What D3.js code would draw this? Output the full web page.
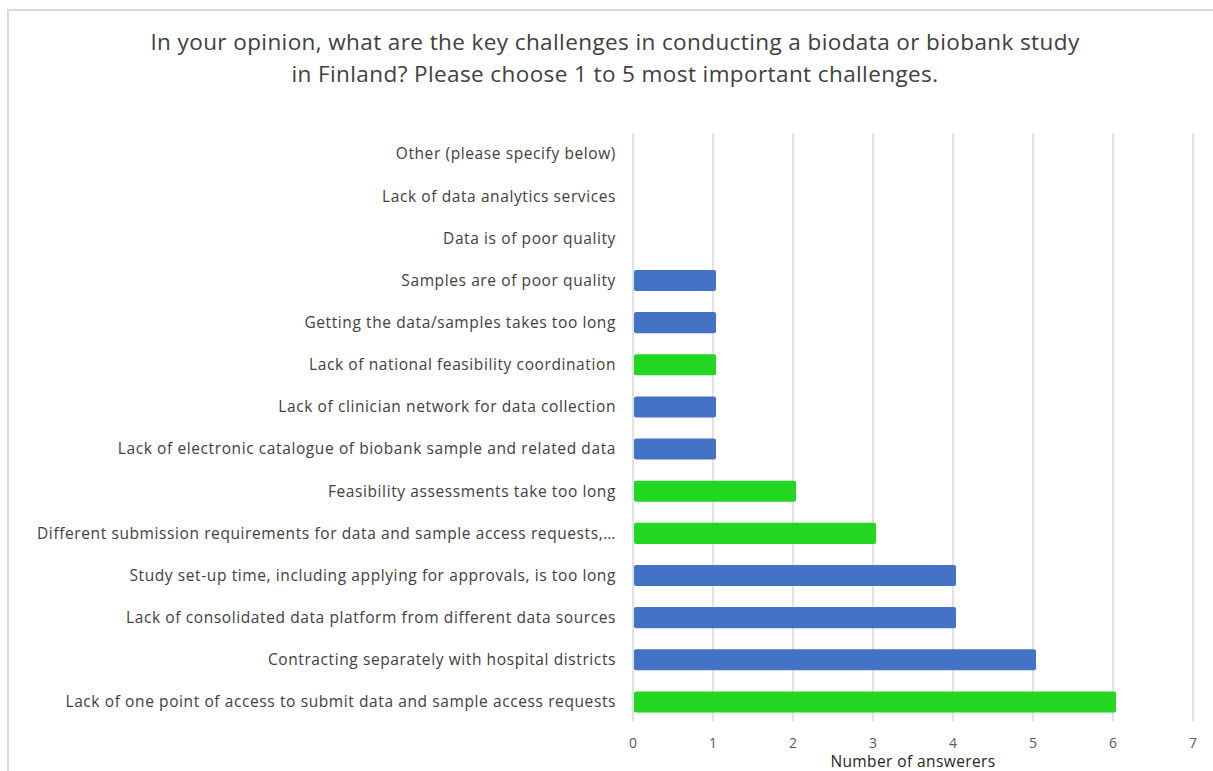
<!DOCTYPE html>
<html><head><meta charset="utf-8">
<script src="https://cdn.jsdelivr.net/npm/d3@7"></script>
<style>
html,body{margin:0;padding:0;background:#fff;}
svg{display:block;}
</style></head>
<body><svg id="chart" width="1213" height="771"></svg>
<script>
const titleLines = ["In your opinion, what are the key challenges in conducting a biodata or biobank study",
  "in Finland? Please choose 1 to 5 most important challenges."];
const categories = [
  "Other (please specify below)",
  "Lack of data analytics services",
  "Data is of poor quality",
  "Samples are of poor quality",
  "Getting the data/samples takes too long",
  "Lack of national feasibility coordination",
  "Lack of clinician network for data collection",
  "Lack of electronic catalogue of biobank sample and related data",
  "Feasibility assessments take too long",
  "Different submission requirements for data and sample access requests,…",
  "Study set-up time, including applying for approvals, is too long",
  "Lack of consolidated data platform from different data sources",
  "Contracting separately with hospital districts",
  "Lack of one point of access to submit data and sample access requests"
];
const values = [0,0,0,1,1,1,1,1,2,3,4,4,5,6];
const highlighted = [false,false,false,false,false,true,false,false,true,true,false,false,false,true];
const xTicks = [0,1,2,3,4,5,6,7];
const axisTitle = "Number of answerers";

const font = "'Open Sans', sans-serif";
const svg = d3.select("#chart");

// outer border
svg.append("rect").attr("x",8).attr("y",10).attr("width",1220).attr("height",780)
  .attr("fill","none").attr("stroke","#d9d9d9").attr("stroke-width",2);

const x = d3.scaleLinear().domain([0,7]).range([633,1193]);
const y = d3.scaleBand().domain(categories).range([133,723]).paddingInner(0.5).paddingOuter(0.25);

// title
svg.selectAll("text.title").data(titleLines).join("text")
  .attr("class","title").attr("x",615).attr("y",(d,i)=>50+i*32)
  .attr("text-anchor","middle").attr("font-family",font).attr("font-size",22.5)
  .attr("letter-spacing",0.4)
  .attr("fill","#404040").text(d=>d);

// gridlines
svg.append("g").selectAll("line").data(xTicks).join("line")
  .attr("x1",d=>x(d)).attr("x2",d=>x(d)).attr("y1",133).attr("y2",721)
  .attr("stroke","#d9d9d9").attr("stroke-width",1.5);

// bars
svg.append("g").selectAll("rect").data(categories).join("rect")
  .attr("x",x(0)+1).attr("y",d=>y(d))
  .attr("width",(d,i)=>Math.max(0,x(values[i])-x(0)+2))
  .attr("height",y.bandwidth()).attr("rx",2)
  .attr("fill",(d,i)=>highlighted[i] ? "#22d622" : "#4472c4")
  .attr("display",(d,i)=>values[i]>0?null:"none");

// category labels
svg.append("g").selectAll("text").data(categories).join("text")
  .attr("x",616).attr("y",d=>y(d)+y.bandwidth()/2)
  .attr("dy","0.35em").attr("text-anchor","end")
  .attr("font-family",font).attr("font-size",15.5).attr("letter-spacing",0.6)
  .attr("fill","#404040").text(d=>d);

// x tick labels
svg.append("g").selectAll("text").data(xTicks).join("text")
  .attr("x",d=>x(d)).attr("y",748).attr("text-anchor","middle")
  .attr("font-family",font).attr("font-size",14).attr("fill","#595959").text(d=>d);

svg.append("text").attr("x",913).attr("y",767).attr("text-anchor","middle")
  .attr("font-family",font).attr("font-size",15.5).attr("letter-spacing",0.4)
  .attr("fill","#262626").text(axisTitle);
</script>
</body></html>
